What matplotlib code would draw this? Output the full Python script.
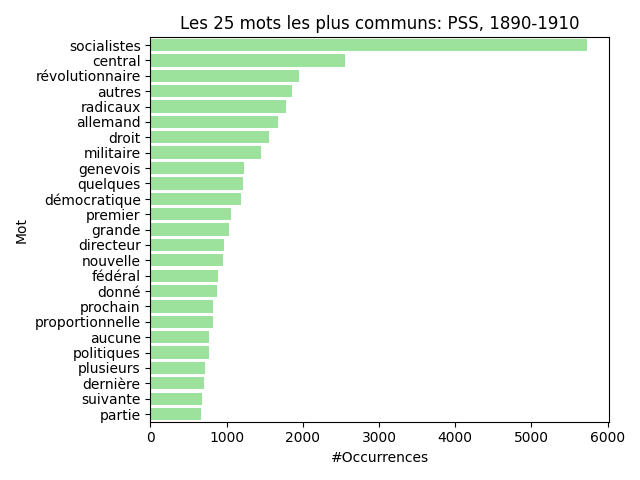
import matplotlib
matplotlib.use("Agg")
import matplotlib.pyplot as plt
import seaborn as sns
import pandas as pd

words = ["socialistes", "central", "révolutionnaire", "autres", "radicaux", "allemand",
         "droit", "militaire", "genevois", "quelques", "démocratique", "premier", "grande",
         "directeur", "nouvelle", "fédéral", "donné", "prochain", "proportionnelle",
         "aucune", "politiques", "plusieurs", "dernière", "suivante", "partie"]
counts = [5733, 2558, 1955, 1863, 1784, 1679, 1561, 1456, 1233, 1220, 1194, 1063, 1036,
          971, 958, 892, 879, 826, 822, 774, 770, 721, 708, 682, 669]

df = pd.DataFrame({"Mot": words, "#Occurrences": counts})

fig, ax = plt.subplots(figsize=(6.4, 4.8), dpi=100)
sns.barplot(data=df, x="#Occurrences", y="Mot", color="lightgreen", ax=ax)
ax.set_title("Les 25 mots les plus communs: PSS, 1890-1910")
fig.tight_layout()
fig.savefig("out.png")
